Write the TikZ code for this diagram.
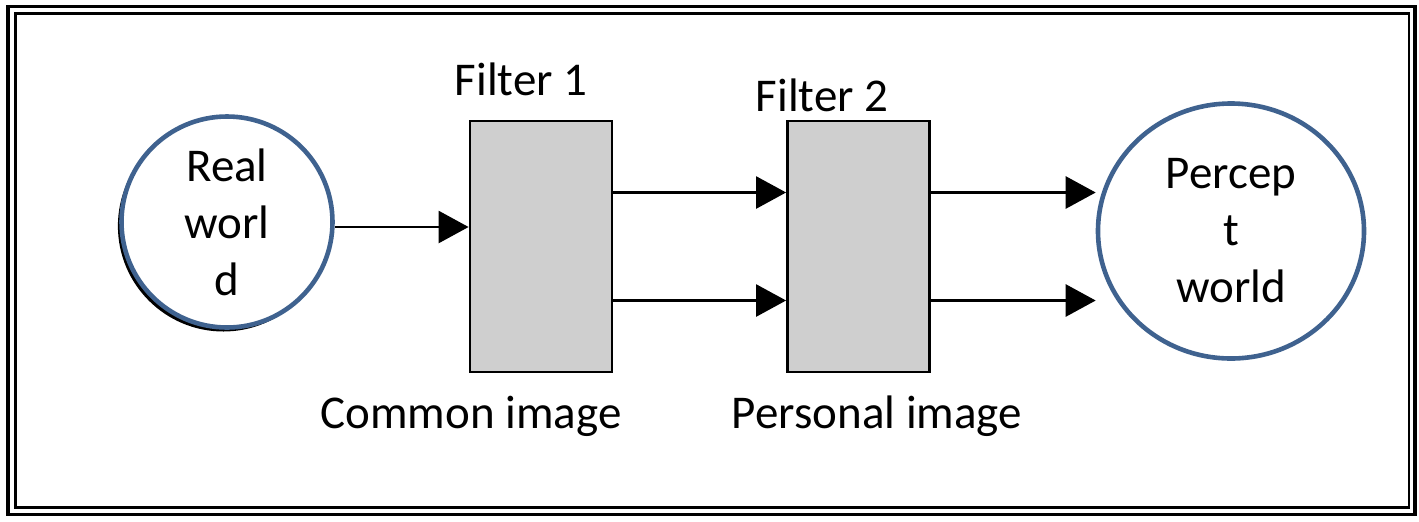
\documentclass[tikz,border=0pt]{standalone}
\usepackage{fontspec}
\setmainfont{Carlito}
\usetikzlibrary{arrows.meta,shapes.geometric,shadows}
\definecolor{ringblue}{RGB}{63,98,143}

\begin{document}
\begin{tikzpicture}[x=0.5pt,y=-0.5pt,
	font=\fontsize{23.5pt}{28.5pt}\selectfont,
	world/.style={circle, draw=ringblue, line width=2.3pt, fill=white, inner sep=0pt, align=center},
	filter/.style={rectangle, draw=black, line width=1.4pt, fill=black!19, minimum width=71pt, minimum height=125.5pt},
	flow/.style={-{Triangle[length=15pt,width=16pt]}, line width=1.3pt}]
	\useasboundingbox (0,0) rectangle (1419,521);
	\draw[line width=1.6pt] (8,6.5) rectangle (1415,514.5);
	\draw[line width=1.3pt] (15.5,13.5) rectangle (1409,507.5);

	\node at (227,222) [world, minimum size=105.5pt, drop shadow={shadow xshift=-1.8pt, shadow yshift=-2pt, opacity=1, fill=black}] (real) {Real\\worl\\d};
	\node at (541,246.5) [filter] (f1) {};
	\node at (858.5,246.5) [filter] (f2) {};
	\node at (1231,231) [world, ellipse, minimum width=133pt, minimum height=127.5pt] (perc) {Percep\\t\\world};

	\node at (521,95) [anchor=base] (lab1) {Filter 1};
	\node at (822,111) [anchor=base] (lab2) {Filter 2};
	\node at (471,428) [anchor=base] (common) {Common image};
	\node at (877,428) [anchor=base] (personal) {Personal image};

	\draw [flow] ([yshift=-2.5pt]real.east) -- ([yshift=-2.5pt]real.east -| f1.west);
	\draw [flow] ([yshift=27pt]f1.east) -- ([yshift=27pt]f2.west);
	\draw [flow] ([yshift=-27pt]f1.east) -- ([yshift=-27pt]f2.west);
	\draw [flow] ([yshift=27pt]f2.east) -- ([yshift=27pt]f2.east -| perc.west);
	\draw [flow] ([yshift=-27pt]f2.east) -- ([yshift=-27pt]f2.east -| perc.west);
\end{tikzpicture}
\end{document}
